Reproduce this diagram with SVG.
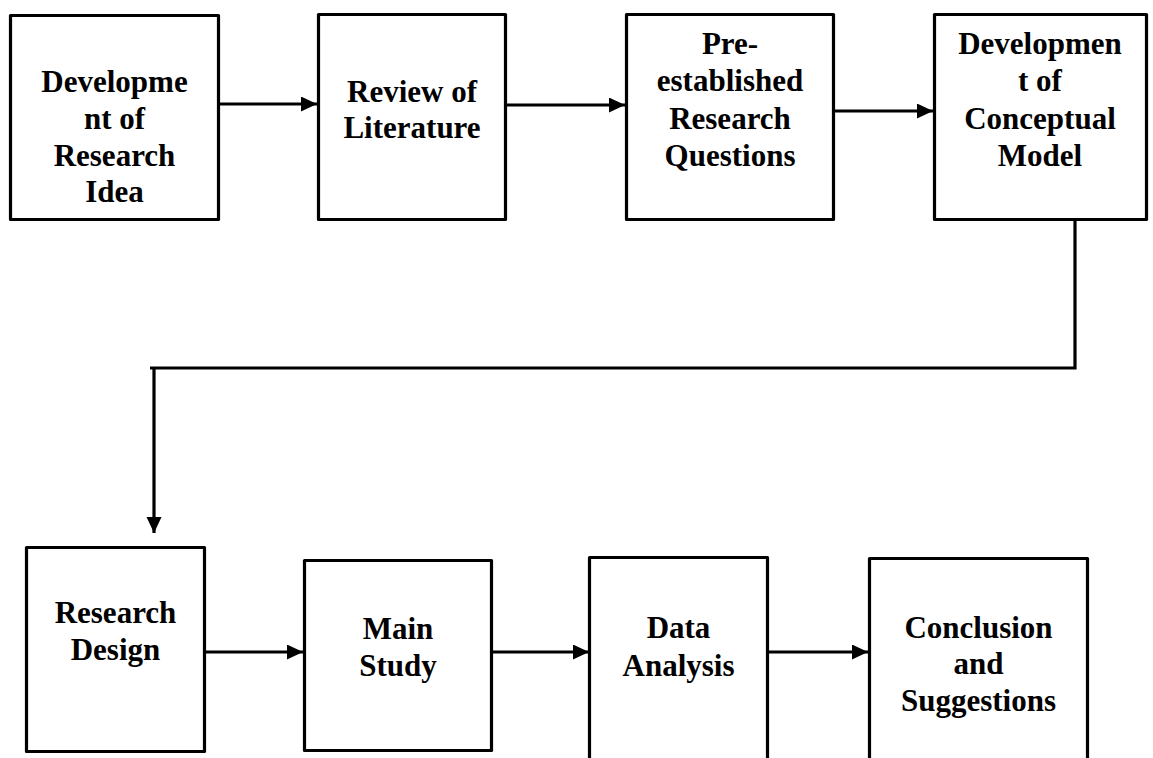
<svg xmlns="http://www.w3.org/2000/svg" width="1153" height="758" viewBox="0 0 1153 758">
  <style>
    .box { fill: #ffffff; stroke: #000000; stroke-width: 3.2; stroke-linejoin: round; }
    .lbl { font-family: "Liberation Serif", "Times New Roman", serif; font-weight: bold; font-size: 31px; fill: #000000; text-anchor: middle; }
    .link { fill: none; stroke: #000000; stroke-width: 3.2; }
  </style>
  <defs>
    <marker id="arrow" markerUnits="userSpaceOnUse" markerWidth="17" markerHeight="16" refX="16" refY="7.5" orient="auto">
      <path d="M0,0 L16,7.5 L0,15 z" fill="#000000"/>
    </marker>
  </defs>
  <rect width="1153" height="758" fill="#ffffff"/>

  <!-- top row -->
  <g id="node-idea">
    <rect class="box" x="10.5" y="15.5" width="208" height="204"/>
    <text class="lbl" x="114.5" y="92">Developme</text>
    <text class="lbl" x="114.5" y="129">nt of</text>
    <text class="lbl" x="114.5" y="166">Research</text>
    <text class="lbl" x="114.5" y="202">Idea</text>
  </g>
  <g id="node-literature">
    <rect class="box" x="318.5" y="14.5" width="187" height="205"/>
    <text class="lbl" x="412" y="102">Review of</text>
    <text class="lbl" x="412" y="138">Literature</text>
  </g>
  <g id="node-questions">
    <rect class="box" x="626.5" y="14.5" width="207" height="205"/>
    <text class="lbl" x="730" y="54">Pre-</text>
    <text class="lbl" x="730" y="91">established</text>
    <text class="lbl" x="730" y="129">Research</text>
    <text class="lbl" x="730" y="166">Questions</text>
  </g>
  <g id="node-model">
    <rect class="box" x="934.5" y="14.5" width="212" height="205"/>
    <text class="lbl" x="1040" y="54">Developmen</text>
    <text class="lbl" x="1040" y="91">t of</text>
    <text class="lbl" x="1040" y="129">Conceptual</text>
    <text class="lbl" x="1040" y="166">Model</text>
  </g>

  <!-- bottom row -->
  <g id="node-design">
    <rect class="box" x="26.5" y="547.5" width="178" height="204"/>
    <text class="lbl" x="115.5" y="623">Research</text>
    <text class="lbl" x="115.5" y="660">Design</text>
  </g>
  <g id="node-study">
    <rect class="box" x="304.5" y="560.5" width="187" height="190"/>
    <text class="lbl" x="398" y="639">Main</text>
    <text class="lbl" x="398" y="676">Study</text>
  </g>
  <g id="node-analysis">
    <rect class="box" x="589.5" y="557.5" width="178" height="220"/>
    <text class="lbl" x="678.5" y="638">Data</text>
    <text class="lbl" x="678.5" y="676">Analysis</text>
  </g>
  <g id="node-conclusion">
    <rect class="box" x="869.5" y="558.5" width="218" height="220"/>
    <text class="lbl" x="978.5" y="638">Conclusion</text>
    <text class="lbl" x="978.5" y="674">and</text>
    <text class="lbl" x="978.5" y="711">Suggestions</text>
  </g>

  <!-- connectors -->
  <g id="connectors">
    <line class="link" x1="220" y1="104" x2="317" y2="104" marker-end="url(#arrow)"/>
    <line class="link" x1="507" y1="105" x2="625" y2="105" marker-end="url(#arrow)"/>
    <line class="link" x1="835" y1="111" x2="933" y2="111" marker-end="url(#arrow)"/>
    <path class="link" d="M1075,221 V368 H150"/>
    <line class="link" x1="154" y1="368" x2="154" y2="533" marker-end="url(#arrow)"/>
    <line class="link" x1="206" y1="652" x2="303" y2="652" marker-end="url(#arrow)"/>
    <line class="link" x1="493" y1="652" x2="589" y2="652" marker-end="url(#arrow)"/>
    <line class="link" x1="769" y1="652" x2="868" y2="652" marker-end="url(#arrow)"/>
  </g>
</svg>
